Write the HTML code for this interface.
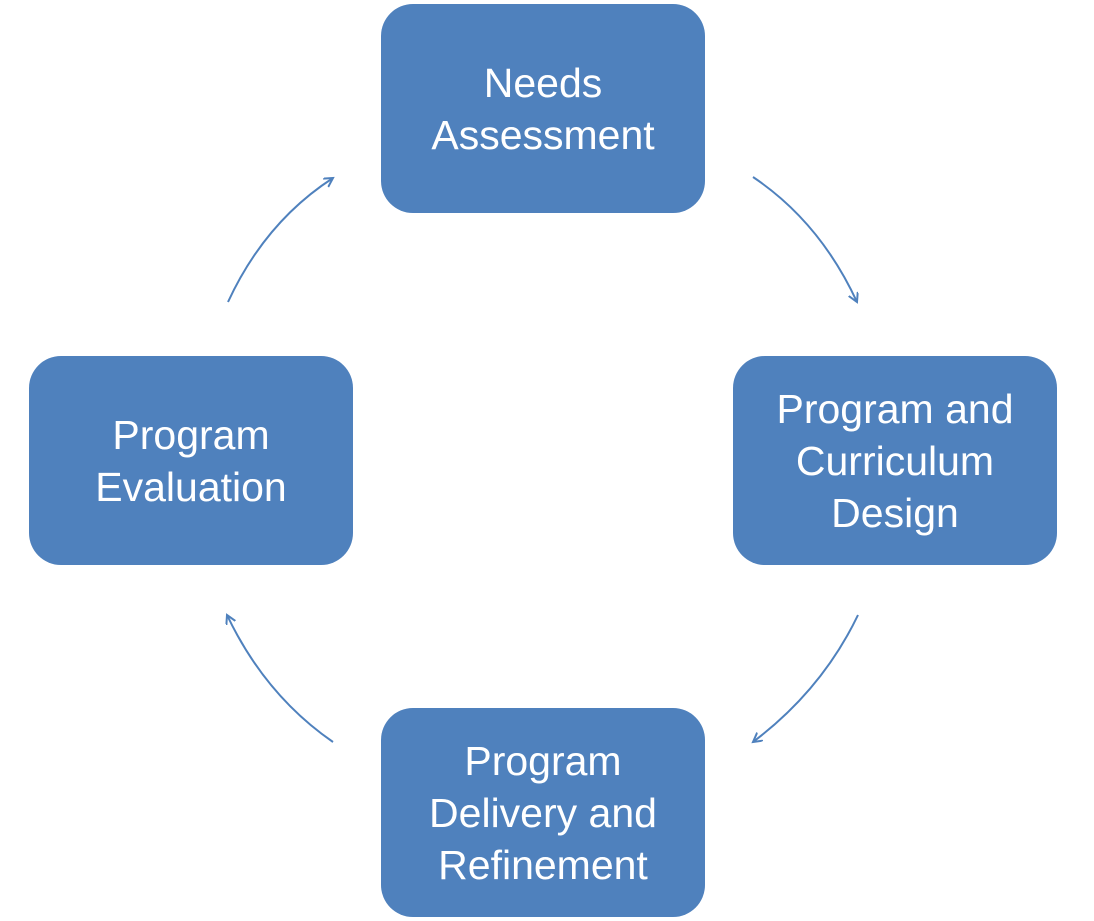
<!DOCTYPE html>
<html><head><style>
html,body{margin:0;padding:0;background:#fff;width:1094px;height:921px;overflow:hidden}
.b{position:absolute;width:324px;height:209px;background:#4F81BD;border-radius:32px;color:#fff;font-family:"Liberation Sans",sans-serif;font-size:41px;line-height:52px;display:flex;align-items:center;justify-content:center;text-align:center}
svg{position:absolute;left:0;top:0}
</style></head><body>
<svg width="1094" height="921">
<defs><marker id="a" markerWidth="12" markerHeight="12" refX="9" refY="5" orient="auto" markerUnits="userSpaceOnUse"><path d="M0,0 L9,5 L0,10" fill="none" stroke="#4F81BD" stroke-width="2"/></marker></defs>
<g fill="none" stroke="#4F81BD" stroke-width="2" marker-end="url(#a)">
<path d="M753,177 Q820,222 857,302"/>
<path d="M858,615 Q822,690 753,742"/>
<path d="M333,742 Q265,695 227,615"/>
<path d="M228,302 Q265,222 333,178"/>
</g></svg>
<div class="b" style="left:381px;top:4px">Needs<br>Assessment</div>
<div class="b" style="left:733px;top:356px">Program and<br>Curriculum<br>Design</div>
<div class="b" style="left:381px;top:708px">Program<br>Delivery and<br>Refinement</div>
<div class="b" style="left:29px;top:356px">Program<br>Evaluation</div>
</body></html>
